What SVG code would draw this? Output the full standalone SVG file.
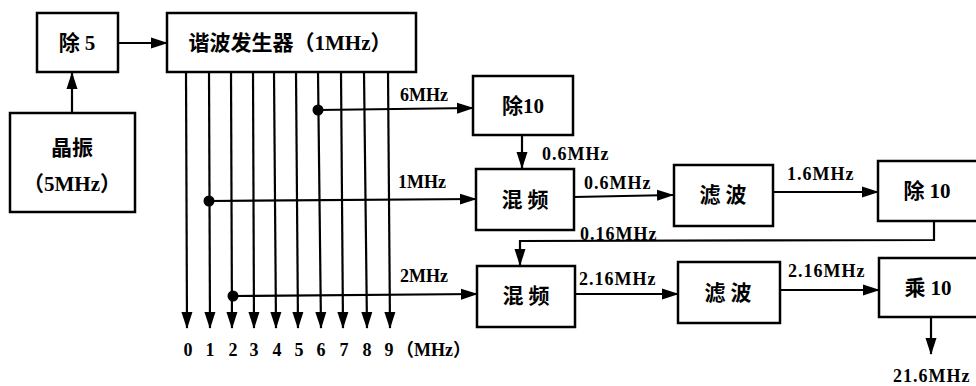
<svg xmlns="http://www.w3.org/2000/svg" width="976" height="386" viewBox="0 0 976 386">
<style>
.box{fill:#fff;stroke:#000;stroke-width:2.5}
.ln{fill:none;stroke:#000;stroke-width:2.2}
.t{font-family:"Liberation Serif","Noto Sans CJK SC",serif;font-size:18px;font-weight:bold;fill:#000}
.b{font-size:21px}
.c{text-anchor:middle}
</style>
<defs>
<marker id="a" markerWidth="17" markerHeight="12" refX="16" refY="6" orient="auto" markerUnits="userSpaceOnUse">
<path d="M0,0.5 L17,6 L0,11.5 Z" fill="#000"/>
</marker>
</defs>
<rect width="976" height="386" fill="#fff"/>
<g id="connectors">
<line class="ln" x1="118" y1="43" x2="167" y2="43" marker-end="url(#a)"/>
<line class="ln" x1="72" y1="113" x2="72" y2="73" marker-end="url(#a)"/>
<line class="ln" x1="186" y1="72" x2="187" y2="328" marker-end="url(#a)"/>
<line class="ln" x1="209" y1="72" x2="210" y2="328" marker-end="url(#a)"/>
<line class="ln" x1="231" y1="72" x2="232" y2="328" marker-end="url(#a)"/>
<line class="ln" x1="253" y1="72" x2="254" y2="328" marker-end="url(#a)"/>
<line class="ln" x1="274" y1="72" x2="276" y2="328" marker-end="url(#a)"/>
<line class="ln" x1="296" y1="72" x2="298" y2="328" marker-end="url(#a)"/>
<line class="ln" x1="318" y1="72" x2="321" y2="328" marker-end="url(#a)"/>
<line class="ln" x1="341" y1="72" x2="343" y2="328" marker-end="url(#a)"/>
<line class="ln" x1="364" y1="72" x2="367" y2="328" marker-end="url(#a)"/>
<line class="ln" x1="388" y1="72" x2="390" y2="328" marker-end="url(#a)"/>
<circle cx="318" cy="110" r="5.5" fill="#000"/>
<circle cx="209" cy="201" r="5.5" fill="#000"/>
<circle cx="233" cy="296" r="5.5" fill="#000"/>
<line class="ln" x1="318" y1="110" x2="473" y2="108" marker-end="url(#a)"/>
<line class="ln" x1="209" y1="201" x2="476" y2="199" marker-end="url(#a)"/>
<line class="ln" x1="233" y1="296" x2="477" y2="294" marker-end="url(#a)"/>
<line class="ln" x1="522" y1="135" x2="522" y2="168" marker-end="url(#a)"/>
<line class="ln" x1="574" y1="197" x2="673" y2="195" marker-end="url(#a)"/>
<line class="ln" x1="773" y1="192" x2="878" y2="192" marker-end="url(#a)"/>
<polyline class="ln" points="934,221 934,240 520,241 520,265" marker-end="url(#a)"/>
<line class="ln" x1="575" y1="294" x2="678" y2="294" marker-end="url(#a)"/>
<line class="ln" x1="780" y1="290" x2="879" y2="290" marker-end="url(#a)"/>
<line class="ln" x1="931" y1="317" x2="931" y2="354" marker-end="url(#a)"/>
</g>
<g id="div5"><rect class="box" x="37" y="13" width="81" height="59"/><text class="t b c" x="77" y="50">除 5</text></g>
<g id="harmonic"><rect class="box" x="167" y="13" width="249" height="59"/><text class="t b c" x="290" y="50">谐波发生器（1MHz）</text></g>
<g id="crystal"><rect class="box" x="10" y="113" width="125" height="99"/><text class="t b c" x="72" y="155">晶振</text><text class="t b c" x="72" y="191">（5MHz）</text></g>
<g id="div10a"><rect class="box" x="473" y="76" width="100" height="59"/><text class="t b c" x="523" y="113">除10</text></g>
<g id="mix1"><rect class="box" x="476" y="169" width="98" height="61"/><text class="t b c" x="525" y="207">混 频</text></g>
<g id="filter1"><rect class="box" x="674" y="165" width="99" height="61"/><text class="t b c" x="723" y="202">滤 波</text></g>
<g id="div10b"><rect class="box" x="878" y="161" width="100" height="60"/><text class="t b c" x="927" y="198">除 10</text></g>
<g id="mix2"><rect class="box" x="477" y="266" width="98" height="61"/><text class="t b c" x="526" y="303">混 频</text></g>
<g id="filter2"><rect class="box" x="678" y="262" width="102" height="61"/><text class="t b c" x="728" y="300">滤 波</text></g>
<g id="mul10"><rect class="box" x="879" y="258" width="100" height="59"/><text class="t b c" x="928" y="295">乘 10</text></g>
<g id="labels">
<text class="t" x="400" y="101">6MHz</text>
<text class="t" x="542" y="160" letter-spacing="1">0.6MHz</text>
<text class="t" x="398" y="188">1MHz</text>
<text class="t" x="584" y="189" letter-spacing="1">0.6MHz</text>
<text class="t" x="787" y="180" letter-spacing="1">1.6MHz</text>
<text class="t" x="580" y="240" letter-spacing="1">0.16MHz</text>
<text class="t" x="400" y="282">2MHz</text>
<text class="t" x="579" y="285" letter-spacing="1">2.16MHz</text>
<text class="t" x="788" y="277" letter-spacing="1">2.16MHz</text>
<text class="t" x="893" y="382" letter-spacing="1">21.6MHz</text>
<text class="t c" x="188" y="356">0</text>
<text class="t c" x="210" y="356">1</text>
<text class="t c" x="233" y="356">2</text>
<text class="t c" x="254" y="356">3</text>
<text class="t c" x="277" y="356">4</text>
<text class="t c" x="299" y="356">5</text>
<text class="t c" x="321" y="356">6</text>
<text class="t c" x="344" y="356">7</text>
<text class="t c" x="367" y="356">8</text>
<text class="t c" x="389" y="356">9</text>
<text class="t" x="396" y="356">（MHz）</text>
</g>
</svg>
